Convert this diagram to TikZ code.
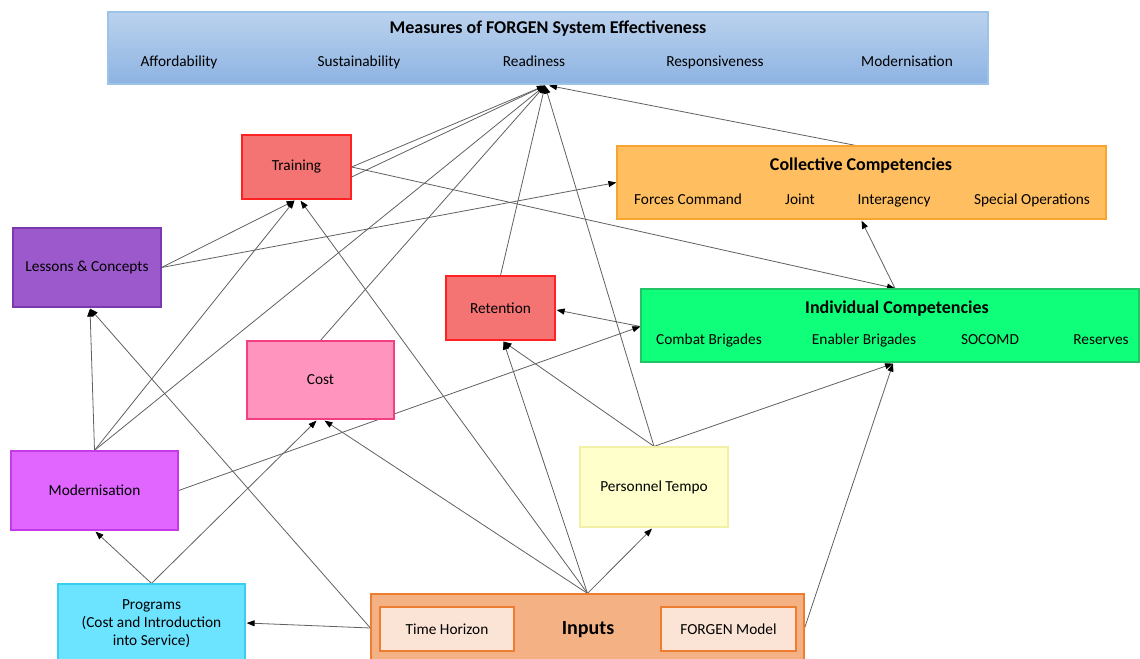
\documentclass[tikz,border=0pt]{standalone}
\usepackage{fontspec}
\setmainfont{Carlito}
\usetikzlibrary{arrows.meta,calc,backgrounds}
\definecolor{meastop}{HTML}{BBD2EE}
\definecolor{measbot}{HTML}{8DB3E2}
\definecolor{measborder}{HTML}{9DC3E6}
\definecolor{redfill}{HTML}{F47474}
\definecolor{redborder}{HTML}{FF2222}
\definecolor{collfill}{HTML}{FFBF60}
\definecolor{collborder}{HTML}{F7A530}
\definecolor{lessfill}{HTML}{9B59CC}
\definecolor{lessborder}{HTML}{7A3AAE}
\definecolor{indfill}{HTML}{10FF7A}
\definecolor{indborder}{HTML}{22C466}
\definecolor{costfill}{HTML}{FF94BF}
\definecolor{costborder}{HTML}{F23F84}
\definecolor{modfill}{HTML}{E066FF}
\definecolor{modborder}{HTML}{C43AE8}
\definecolor{tempofill}{HTML}{FFFFCC}
\definecolor{tempoborder}{HTML}{F2EFA6}
\definecolor{progfill}{HTML}{6CE4FF}
\definecolor{progborder}{HTML}{3ACDF2}
\definecolor{inpfill}{HTML}{F4B183}
\definecolor{inpborder}{HTML}{ED7D31}
\definecolor{subfill}{HTML}{FBE4D6}
\definecolor{linkgray}{HTML}{606060}
\begin{document}
\begin{tikzpicture}[x=0.75pt,y=-0.75pt,
  box/.style={draw, line width=0.9pt, inner sep=0pt, align=center, font=\fontsize{11.5}{13.5}\selectfont},
  sz/.style 2 args={minimum width=#1*0.75pt, minimum height=#2*0.75pt},
  item/.style={inner sep=0pt, anchor=base, font=\fontsize{11.5}{13.5}\selectfont},
  head/.style={inner sep=0pt, anchor=base, font=\fontsize{13.5}{16}\bfseries},
  link/.style={draw=linkgray, line width=0.6pt, -{Triangle[length=6pt,width=4.5pt,color=black]}}]
\useasboundingbox (0,0) rectangle (1140,659);
% ---------- nodes ----------
\node[box, sz={880}{72}, draw=measborder, top color=meastop, bottom color=measbot] (meas) at (548,48) {};
\node[head] (meastitle) at (548,34) {Measures of FORGEN System Effectiveness};
\node[item] (m1) at (179,67) {Affordability};
\node[item] (m2) at (359,67) {Sustainability};
\node[item] (m3) at (534,67) {Readiness};
\node[item] (m4) at (715,67) {Responsiveness};
\node[item] (m5) at (907,67) {Modernisation};

\node[box, sz={109}{64}, draw=redborder, fill=redfill] (train) at (296.5,167) {Training};

\node[box, sz={489}{73}, draw=collborder, fill=collfill] (coll) at (861.5,182.5) {};
\node[head] (colltitle) at (861,171) {Collective Competencies};
\node[item] (c1) at (688,205) {Forces Command};
\node[item] (c2) at (800,205) {Joint};
\node[item] (c3) at (894,205) {Interagency};
\node[item] (c4) at (1032,205) {Special Operations};

\node[box, sz={148}{79}, draw=lessborder, fill=lessfill] (lessons) at (87,267.5) {Lessons \& Concepts};

\node[box, sz={109}{64}, draw=redborder, fill=redfill] (ret) at (500.5,308) {Retention};

\node[box, sz={498}{73}, draw=indborder, fill=indfill] (indiv) at (890,325.5) {};
\node[head] (indtitle) at (897,314) {Individual Competencies};
\node[item] (i1) at (709,345) {Combat Brigades};
\node[item] (i2) at (864,345) {Enabler Brigades};
\node[item] (i3) at (990,345) {SOCOMD};
\node[item] (i4) at (1101,345) {Reserves};

\node[box, sz={147}{78}, draw=costborder, fill=costfill] (cost) at (320.5,380) {Cost};

\node[box, sz={167}{79}, draw=modborder, fill=modfill] (modern) at (94.5,490.5) {Modernisation};

\node[box, sz={148}{80}, draw=tempoborder, fill=tempofill] (tempo) at (654,487) {Personnel Tempo};

\node[box, sz={187}{80}, draw=progborder, fill=progfill] (prog) at (151.5,624) {Programs\\(Cost and Introduction\\into Service)};

\node[box, sz={433}{68}, draw=inpborder, fill=inpfill] (inputs) at (587.5,628) {};
\node[inner sep=0pt, font=\fontsize{15}{18}\bfseries] (inptitle) at (588,630) {Inputs};
\node[box, sz={134}{44}, draw=inpborder, fill=subfill] (th) at (447,629) {Time Horizon};
\node[box, sz={135}{44}, draw=inpborder, fill=subfill] (fm) at (728.5,629) {FORGEN Model};

% ---------- connectors ----------
\begin{scope}[on background layer]
\draw[link] (train.east) -- ($(meas.south)+(-3,1)$);
\draw[link] ($(train.east)+(0,10)$) -- ($(meas.south)+(-3,1)$);
\draw[link] (modern.north) -- ($(meas.south)+(-3,1)$);
\draw[link] (cost.north) -- ($(meas.south)+(-3,1)$);
\draw[link] (ret.north) -- ($(meas.south)+(-3,1)$);
\draw[link] (tempo.north) -- ($(meas.south)+(-3,1)$);
\draw[link] ($(coll.north)+(-6,0)$) -- ($(meas.south)+(1,1)$);

\draw[link] (train.east) -- ($(indiv.north)+(5,0)$);
\draw[link] (lessons.east) -- ($(train.south)+(-2,1)$);
\draw[link] (lessons.east) -- (coll.west);
\draw[link] (modern.north) -- ($(lessons.south)+(3,1)$);
\draw[link] (modern.north) -- ($(train.south)+(-2,1)$);

\draw[link] ($(indiv.north)+(5,0)$) -- ($(coll.south)+(0,1)$);
\draw[link] ($(indiv.west)+(0,1)$) -- ($(ret.east)+(1,2)$);
\draw[link] (modern.east) -- ($(indiv.west)+(0,1)$);

\draw[link] (tempo.north) -- ($(ret.south)+(3,1)$);
\draw[link] (tempo.north) -- ($(indiv.south)+(3,1)$);

\draw[link] (inputs.west) -- ($(lessons.south)+(3,1)$);
\draw[link] (inputs.west) -- ($(prog.east)+(1,-1)$);
\draw[link] (inputs.north) -- ($(train.south)+(4,1)$);
\draw[link] (inputs.north) -- ($(cost.south)+(4,1)$);
\draw[link] (inputs.north) -- ($(ret.south)+(3,1)$);
\draw[link] (inputs.north) -- ($(tempo.south)+(-2,1)$);
\draw[link] (inputs.east) -- ($(indiv.south)+(3,1)$);

\draw[link] (prog.north) -- ($(modern.south)+(1,1)$);
\draw[link] (prog.north) -- ($(cost.south)+(-4,1)$);
\end{scope}
\end{tikzpicture}
\end{document}
